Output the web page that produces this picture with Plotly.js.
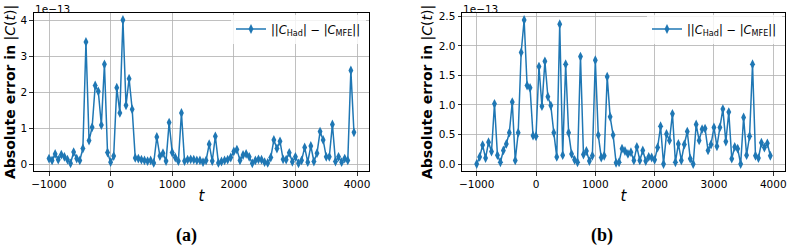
<!DOCTYPE html>
<html>
<head>
<meta charset="utf-8">
<script src="https://cdn.plot.ly/plotly-3.0.1.min.js"></script>
<style>
  html, body { margin: 0; padding: 0; background: #ffffff; }
  #chart { width: 790px; height: 248px; }
</style>
</head>
<body>
<div id="chart"></div>
<script>
// Time steps shared by both panels
const times = [];
for (let t = -1000; t <= 3950; t += 50) times.push(t);

// Absolute error in |C(t)|, in units of 1e-13 (offset shown above each y axis)
const errorA = [
  0.15, 0.10, 0.28, 0.12, 0.26, 0.20, 0.12, 0.02, 0.33, 0.15,
  0.10, 0.43, 3.39, 0.65, 1.02, 2.18, 2.02, 1.08, 2.77, 0.32,
  0.05, 0.22, 2.12, 1.42, 4.00, 1.63, 2.37, 1.52, 0.17, 0.15,
  0.12, 0.10, 0.08, 0.10, 0.03, 0.75, 0.22, 0.30, 0.08, 1.15,
  0.32, 0.18, 0.08, 1.42, 0.08, 0.12, 0.13, 0.12, 0.10, 0.10,
  0.05, 0.10, 0.55, 0.08, 0.77, 0.03, 0.07, 0.10, 0.12, 0.18,
  0.35, 0.40, 0.10, 0.25, 0.28, 0.20, 0.02, 0.10, 0.13, 0.12,
  0.05, 0.03, 0.18, 0.67, 0.43, 0.63, 0.13, 0.12, 0.31, 0.06,
  0.20, 0.02, 0.10, 0.46, 0.05, 0.50, 0.07, 0.30, 0.90, 0.67,
  0.20, 0.20, 1.10, 0.07, 0.20, 0.05, 0.15, 0.10, 2.60, 0.88
];

const errorB = [
  0.00, 0.12, 0.32, 0.10, 0.37, 0.21, 1.02, 0.15, 0.03, 0.23,
  0.34, 0.53, 1.05, 0.06, 0.53, 1.89, 2.44, 1.33, 1.29, 0.48,
  0.47, 1.65, 0.98, 1.74, 1.14, 0.99, 0.53, 0.12, 2.37, 0.15,
  1.69, 0.53, 0.17, 0.07, 0.03, 1.82, 0.16, 0.22, 0.05, 0.14,
  1.76, 0.49, 0.11, 0.14, 1.48, 0.80, 0.49, 0.02, 0.03, 0.26,
  0.22, 0.17, 0.20, 0.06, 0.29, 0.06, 0.23, 0.05, 0.12, 0.11,
  0.07, 0.28, 0.64, 0.00, 0.51, 0.40, 0.85, 0.03, 0.34, 0.06,
  0.33, 0.55, 0.09, 0.00, 0.67, 0.40, 0.59, 0.60, 0.23, 0.33,
  0.62, 0.30, 0.62, 0.93, 0.38, 0.88, 0.09, 0.29, 0.26, 0.00,
  0.79, 0.15, 0.47, 1.69, 0.14, 0.10, 0.36, 0.28, 0.35, 0.14
];

const xTicks = [-1000, 0, 1000, 2000, 3000, 4000];
const yTicksA = [0, 1, 2, 3, 4];
const yTicksB = [0, 0.5, 1.0, 1.5, 2.0, 2.5];
const offsetLabel = '1e\u221213';
const seriesName = '||<i>C</i><sub>Had</sub>| \u2212 |<i>C</i><sub>MFE</sub>||';
const yTitle = '<b>Absolute error in</b> |<i>C</i>(<i>t</i>)|';
const panelLabels = ['(a)', '(b)'];

const blue = '#1f77b4';
const sans = 'DejaVu Sans, sans-serif';

function series(y, xa, ya, legendId) {
  return {
    x: times, y: y, xaxis: xa, yaxis: ya,
    type: 'scatter', mode: 'lines+markers',
    name: seriesName, legend: legendId,
    line: { color: blue, width: 1.5 },
    marker: { color: blue, symbol: 'diamond-tall', size: 7 },
    showlegend: true
  };
}

const traces = [
  series(errorA, 'x', 'y', 'legend'),
  series(errorB, 'x2', 'y2', 'legend2')
];

const W = 790, H = 248;
const yDom = [1 - 171.2 / H, 1 - 12.8 / H];
const yMid = (yDom[0] + yDom[1]) / 2;

function xAxis(dom) {
  return {
    domain: dom, range: [-1247.5, 4197.5],
    tickvals: xTicks, tickformat: 'd',
    showgrid: true, gridcolor: '#b0b0b0', gridwidth: 0.8,
    zeroline: false, showline: true, mirror: true,
    linecolor: '#000', linewidth: 1,
    ticks: 'outside', ticklen: 3.5, tickwidth: 0.8, tickcolor: '#000',
    tickfont: { family: sans, size: 10.5, color: '#000' },
    title: { text: '<i>t</i>', font: { family: sans, size: 15, color: '#000' }, standoff: 1 }
  };
}

function yAxis(range, ticks, fmt, anchor) {
  return {
    domain: yDom, range: range, anchor: anchor,
    tickvals: ticks, tickformat: fmt,
    showgrid: true, gridcolor: '#b0b0b0', gridwidth: 0.8,
    zeroline: false, showline: true, mirror: true,
    linecolor: '#000', linewidth: 1,
    ticks: 'outside', ticklen: 3.5, tickwidth: 0.8, tickcolor: '#000',
    tickfont: { family: sans, size: 10.5, color: '#000' }
  };
}

function legendAt(px) {
  return {
    x: px / W, y: 1 - 29 / H, xanchor: 'left', yanchor: 'middle',
    bgcolor: 'rgba(255,255,255,0.8)', borderwidth: 0,
    font: { family: sans, size: 11.5, color: '#000' }
  };
}

function note(text, px, py, opts) {
  return Object.assign({
    text: text, xref: 'paper', yref: 'paper', x: px / W, y: 1 - py / H,
    showarrow: false, borderpad: 0
  }, opts);
}

const layout = {
  width: W, height: H,
  margin: { l: 0, r: 0, t: 0, b: 0 },
  paper_bgcolor: '#fff', plot_bgcolor: '#fff',
  font: { family: sans, color: '#000' },
  xaxis: xAxis([33.75 / W, 369.2 / W]),
  yaxis: yAxis([-0.2, 4.2], yTicksA, 'd', 'x'),
  xaxis2: Object.assign(xAxis([462 / W, 785 / W]), { anchor: 'y2' }),
  yaxis2: yAxis([-0.122, 2.562], yTicksB, '.1f', 'x2'),
  legend: legendAt(231),
  legend2: legendAt(647),
  annotations: [
    note(offsetLabel, 33.75, 1.5, { xanchor: 'left', yanchor: 'top',
      font: { family: sans, size: 10.5, color: '#000' } }),
    note(offsetLabel, 462, 1.5, { xanchor: 'left', yanchor: 'top',
      font: { family: sans, size: 10.5, color: '#000' } }),
    { text: yTitle, xref: 'paper', yref: 'paper', x: 10 / W, y: yMid,
      xanchor: 'center', yanchor: 'middle', textangle: -90, showarrow: false,
      font: { family: sans, size: 14, color: '#000' } },
    { text: yTitle, xref: 'paper', yref: 'paper', x: 427 / W, y: yMid,
      xanchor: 'center', yanchor: 'middle', textangle: -90, showarrow: false,
      font: { family: sans, size: 14, color: '#000' } },
    note('<b>' + panelLabels[0] + '</b>', 186, 235, { xanchor: 'center', yanchor: 'middle',
      font: { family: 'Liberation Serif, serif', size: 18, color: '#000' } }),
    note('<b>' + panelLabels[1] + '</b>', 602, 235, { xanchor: 'center', yanchor: 'middle',
      font: { family: 'Liberation Serif, serif', size: 18, color: '#000' } })
  ]
};

Plotly.newPlot('chart', traces, layout, { displayModeBar: false, staticPlot: true });
</script>
</body>
</html>
